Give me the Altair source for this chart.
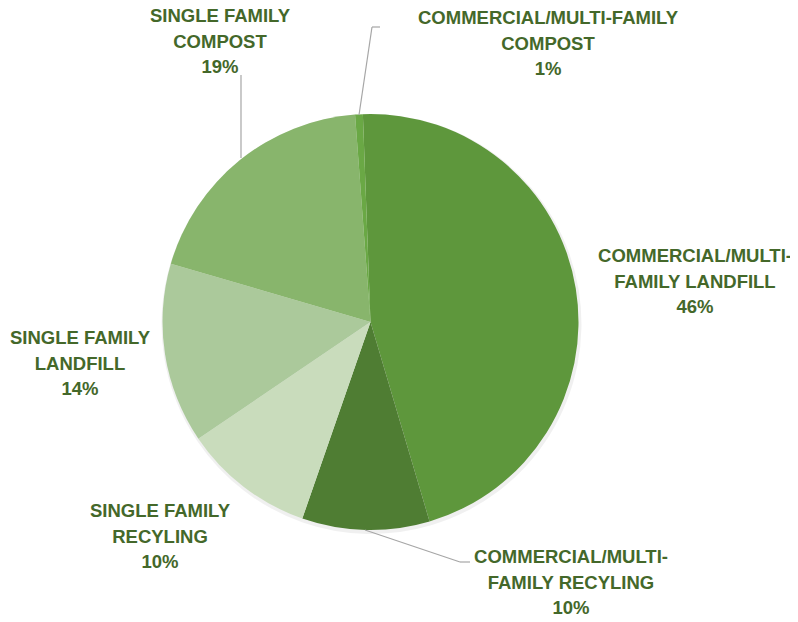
import altair as alt
import pandas as pd
import math

categories = [
    "COMMERCIAL/MULTI-FAMILY LANDFILL",
    "COMMERCIAL/MULTI-FAMILY RECYLING",
    "SINGLE FAMILY RECYLING",
    "SINGLE FAMILY LANDFILL",
    "SINGLE FAMILY COMPOST",
    "COMMERCIAL/MULTI-FAMILY COMPOST",
]
values = [46.0, 9.9, 10.2, 14.0, 19.3, 0.6]
pct_labels = ["46%", "10%", "10%", "14%", "19%", "1%"]
label_text = [
    "COMMERCIAL/MULTI-\nFAMILY LANDFILL\n46%",
    "COMMERCIAL/MULTI-\nFAMILY RECYLING\n10%",
    "SINGLE FAMILY\nRECYLING\n10%",
    "SINGLE FAMILY\nLANDFILL\n14%",
    "SINGLE FAMILY\nCOMPOST\n19%",
    "COMMERCIAL/MULTI-FAMILY\nCOMPOST\n1%",
]
colors = ["#5e973c", "#4f7d33", "#c9dcbc", "#abc99b", "#88b56c", "#6aa845"]

df = pd.DataFrame({
    "category": categories,
    "value": values,
    "pct": pct_labels,
    "label": label_text,
    "order": list(range(len(categories))),
})

# layout (pixels inside the plot area)
CX, CY, R = 362.5, 314, 208
start = math.radians(-2.1)
TEXT_COLOR = "#44682a"
LH = 25.5
# positions of the first line of each label
label_pos = {
    "COMMERCIAL/MULTI-FAMILY LANDFILL": (687, 248),
    "COMMERCIAL/MULTI-FAMILY RECYLING": (563, 549),
    "SINGLE FAMILY RECYLING": (152, 503),
    "SINGLE FAMILY LANDFILL": (72, 330),
    "SINGLE FAMILY COMPOST": (212, 8),
    "COMMERCIAL/MULTI-FAMILY COMPOST": (540, 10),
}
leaders = [
    [(351, 107), (364, 19), (372, 19)],
    [(233, 150), (233, 67)],
    [(357, 522), (452, 554), (462, 554)],
]

base = alt.Chart(df)

theta = alt.Theta("value:Q", stack=True,
                  scale=alt.Scale(range=[start, start + 2 * math.pi]))

shadow = base.mark_arc(outerRadius=R + 2, color="#000000", opacity=0.06).encode(
    theta=theta, order=alt.Order("order:Q"),
    x=alt.value(CX + 1), y=alt.value(CY + 2),
)

pie = base.mark_arc(outerRadius=R).encode(
    theta=theta,
    order=alt.Order("order:Q"),
    color=alt.Color("category:N", sort=categories,
                    scale=alt.Scale(domain=categories, range=colors),
                    legend=None),
    x=alt.value(CX), y=alt.value(CY),
)

layers = [shadow, pie]

one = alt.Chart(df.iloc[[0]])
for pts in leaders:
    for (x1, y1), (x2, y2) in zip(pts[:-1], pts[1:]):
        layers.append(one.mark_rule(color="#a6a6a6", strokeWidth=1.2).encode(
            x=alt.value(x1), y=alt.value(y1), x2=alt.value(x2), y2=alt.value(y2)))

for cat in categories:
    px, py = label_pos[cat]
    layers.append(
        base.transform_filter(alt.datum.category == cat).mark_text(
            font="Liberation Sans", fontWeight="bold", fontSize=18.5,
            color=TEXT_COLOR, lineBreak="\n", lineHeight=LH,
            align="center", baseline="middle",
        ).encode(text="label:N", x=alt.value(px), y=alt.value(py))
    )

chart = alt.layer(*layers).properties(
    width=782, height=606, padding=0,
    autosize=alt.AutoSizeParams(type="none"),
).configure_view(stroke=None)

chart.save("out.html", embed_options={"renderer": "svg", "actions": False})
